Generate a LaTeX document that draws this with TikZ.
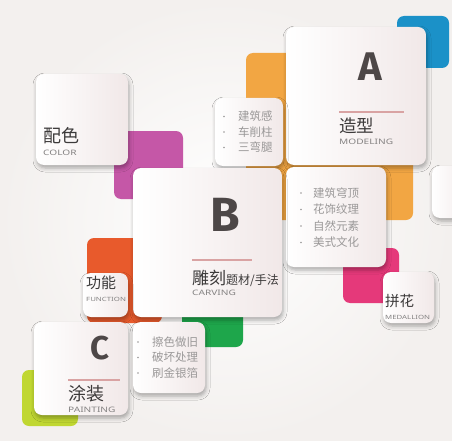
\documentclass[tikz,border=0pt]{standalone}
\usepackage{fontspec}
\setmainfont{Noto Sans}
\newfontfamily\cjk{Noto Sans CJK SC}
\newfontfamily\engf{Noto Sans}[FakeStretch=1.35]
\newfontfamily\letf{Fira Sans}
\usetikzlibrary{shadows.blur}
\definecolor{cblue}{HTML}{1B91C8}
\definecolor{corange}{HTML}{F2A643}
\definecolor{cmagenta}{HTML}{C557A7}
\definecolor{cpink}{HTML}{E5397A}
\definecolor{cred}{HTML}{E85A2C}
\definecolor{cgreen}{HTML}{1EA64B}
\definecolor{clime}{HTML}{C0D731}
\definecolor{bgout}{HTML}{F3F0EE}
\definecolor{cardr}{HTML}{F1E8E8}
\definecolor{titlec}{HTML}{3C3A3A}
\definecolor{bulc}{HTML}{9A9898}
\definecolor{engc}{HTML}{858383}
\definecolor{letc}{HTML}{4D4747}
\definecolor{linec}{HTML}{D9A3A3}
\tikzset{
  sq/.style={rounded corners=7pt, inner sep=0pt, outer sep=0pt, anchor=north west, draw=none},
  card/.style={rounded corners=8pt, inner sep=0pt, outer sep=0pt, anchor=north west, draw=none,
    left color=white, right color=cardr,
    blur shadow={shadow xshift=1pt, shadow yshift=-3pt, shadow blur radius=4pt, shadow opacity=32}},
  ttl/.style={inner sep=0pt, anchor=west, text=titlec, font=\cjk},
  eng/.style={inner sep=0pt, anchor=west, text=engc},
  bul/.style={inner sep=0pt, anchor=west, text=bulc, font=\cjk\fontsize{11.5}{12}\selectfont},
  dot/.style={circle, fill=bulc, inner sep=0pt, minimum size=1.8pt},
  letter/.style={inner sep=0pt, text=letc, font=\letf\bfseries},
  acc/.style={draw=linec, line width=1.4pt}
}
\begin{document}
\begin{tikzpicture}[x=1pt, y=-1pt]
\useasboundingbox (0,0) rectangle (452,441);
\shade[inner color=white, outer color=bgout] (0,0) rectangle (452,441);

% coloured squares
\node[sq, fill=cblue, minimum width=52pt, minimum height=52pt] (sqblue) at (397,16) {};
\node[sq, fill=corange, minimum width=167pt, minimum height=167pt] (sqorange) at (246,53) {};
\node[sq, fill=cmagenta, minimum width=69pt, minimum height=68pt] (sqmag) at (114,131) {};
\node[sq, fill=cred, minimum width=75pt, minimum height=85pt] (sqred) at (87,238) {};
\node[sq, fill=cgreen, minimum width=61pt, minimum height=57pt] (sqgreen) at (182,290) {};
\node[sq, fill=cpink, minimum width=56pt, minimum height=55pt] (sqpink) at (343,248) {};
\node[sq, fill=clime, minimum width=56pt, minimum height=56pt] (sqlime) at (22,370) {};

% cards
\node[card, minimum width=40pt, minimum height=52pt] (cright) at (432,166) {};
\node[card, minimum width=140pt, minimum height=138pt] (cA) at (286,27) {};
\node[card, minimum width=68pt, minimum height=68pt] (cAb) at (215,98) {};
\node[card, minimum width=92pt, minimum height=91pt] (cColor) at (36,74) {};
\node[card, minimum width=100pt, minimum height=100pt] (cBb) at (286,167) {};
\node[card, minimum width=149pt, minimum height=149pt] (cB) at (133,168) {};
\node[card, minimum width=51pt, minimum height=51pt] (cMed) at (383,272) {};
\node[card, minimum width=45pt, minimum height=44pt] (cFun) at (83,273) {};
\node[card, minimum width=94pt, minimum height=93pt] (cC) at (34,322) {};
\node[card, minimum width=72pt, minimum height=71pt] (cCb) at (133,322) {};

% A
\node[letter, font=\letf\bfseries\fontsize{40}{40}\selectfont] (lA) at (370,67) {A};
\coordinate (la1) at (339,112); \coordinate (la2) at (404,112);
\draw[acc] (la1) -- (la2);
\node[ttl, font=\cjk\fontsize{17.5}{17.5}\selectfont] (tA) at (339,126) {造型};
\node[eng, font=\engf\fontsize{7.5}{7.5}\selectfont] (eA) at (339,142) {MODELING};
\foreach \t [count=\i] in {建筑感,车削柱,三弯腿}{
  \node[dot] (dA\i) at (224,{101+15.5*\i}) {};
  \node[bul] (bA\i) at (238,{101+15.5*\i}) {\t};
}

% color
\node[ttl, font=\cjk\fontsize{18}{18}\selectfont] (tCol) at (43,136) {配色};
\node[eng, font=\engf\fontsize{7.5}{7.5}\selectfont] (eCol) at (43,153) {COLOR};

% B
\node[letter, font=\letf\bfseries\fontsize{48}{48}\selectfont] (lB) at (225,215) {B};
\coordinate (lb1) at (192,260); \coordinate (lb2) at (252,260);
\draw[acc] (lb1) -- (lb2);
\node[ttl, font=\cjk\fontsize{17}{17}\selectfont] (tB) at (192,278) {雕刻{\fontsize{12}{12}\selectfont 题材/手法}};
\node[eng, font=\engf\fontsize{7.5}{7.5}\selectfont] (eB) at (192,293) {CARVING};
\foreach \t [count=\i] in {建筑穹顶,花饰纹理,自然元素,美式文化}{
  \node[dot] (dB\i) at (301,{176.5+16.5*\i}) {};
  \node[bul] (bB\i) at (313,{176.5+16.5*\i}) {\t};
}

% medallion
\node[ttl, font=\cjk\fontsize{14.5}{14.5}\selectfont] (tMed) at (385,301) {拼花};
\node[eng, font=\engf\fontsize{5.8}{5.8}\selectfont] (eMed) at (385,317) {MEDALLION};

% function
\node[ttl, font=\cjk\fontsize{15}{15}\selectfont] (tFun) at (86,283) {功能};
\node[eng, font=\engf\fontsize{5.8}{5.8}\selectfont] (eFun) at (86,299) {FUNCTION};

% C
\node[letter, font=\letf\bfseries\fontsize{33}{33}\selectfont] (lC) at (100,348) {C};
\coordinate (lc1) at (68,380); \coordinate (lc2) at (120,380);
\draw[acc] (lc1) -- (lc2);
\node[ttl, font=\cjk\fontsize{18}{18}\selectfont] (tC) at (68,394) {涂装};
\node[eng, font=\engf\fontsize{7.5}{7.5}\selectfont] (eC) at (68,410) {PAINTING};
\foreach \t [count=\i] in {擦色做旧,破坏处理,刷金银箔}{
  \node[dot] (dC\i) at (138,{326.5+15.5*\i}) {};
  \node[bul] (bC\i) at (152,{326.5+15.5*\i}) {\t};
}
\end{tikzpicture}
\end{document}
